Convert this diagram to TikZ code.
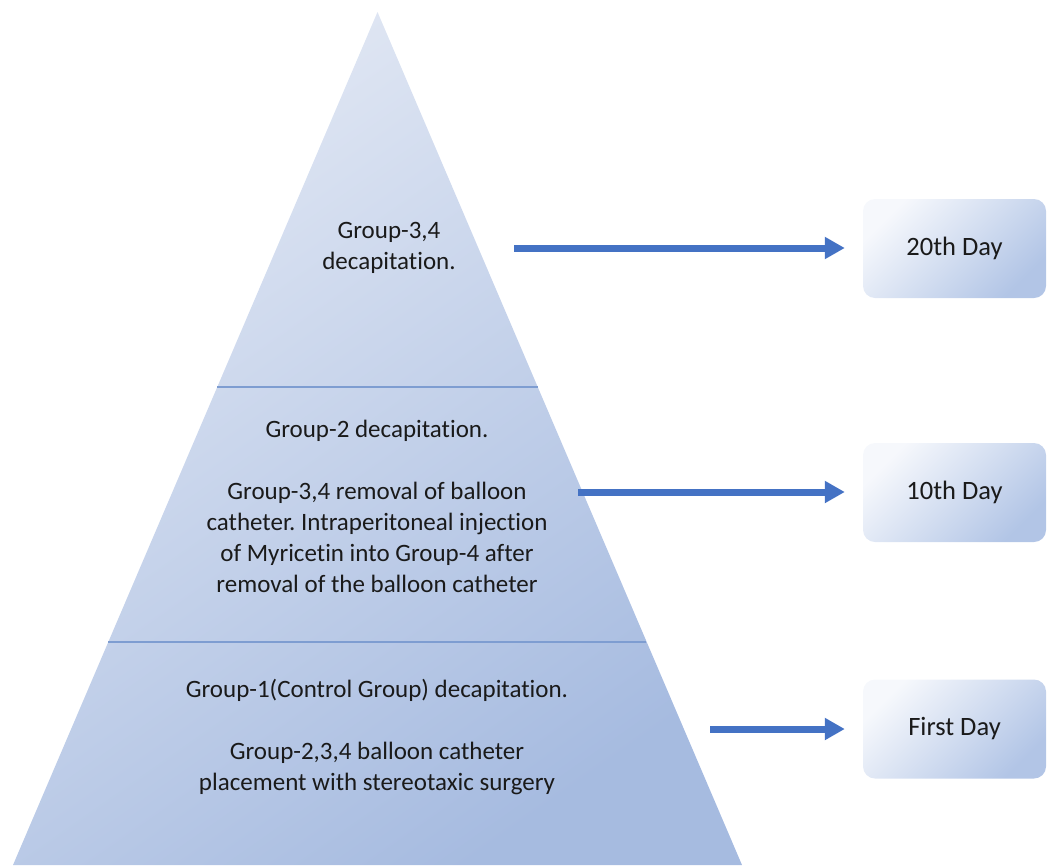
\documentclass[tikz,border=0pt]{standalone}
\usepackage{fontspec}
\setmainfont{Carlito}[RawFeature={-liga,-clig,-dlig}]
\frenchspacing
\usetikzlibrary{arrows.meta}
\definecolor{pyrtop}{HTML}{E2E8F4}
\definecolor{pyrbot}{HTML}{A6BBE0}
\definecolor{divcol}{HTML}{7E9DD1}
\definecolor{arrcol}{HTML}{4472C4}
\definecolor{boxtop}{HTML}{F6F8FC}
\definecolor{boxbot}{HTML}{B2C5E6}
\definecolor{txt}{HTML}{1A1A1A}
\tikzset{
  divider/.style={draw=divcol, line width=2pt},
  arr/.style={draw=arrcol, line width=7pt, -{Triangle[length=20pt,width=21pt]}, shorten >=18pt},
  daybox/.style={rounded corners=12pt, minimum width=183pt, minimum height=99pt,
    top color=boxtop, bottom color=boxbot, shading angle=45, draw=none, text=txt, inner sep=0pt,
    font=\fontsize{26.5}{32}\selectfont},
  pyrtext/.style={align=center, text=txt, inner sep=0pt}
}
\begin{document}
\begin{tikzpicture}[x=1pt,y=-1pt, font=\fontsize{25}{31}\selectfont]
\useasboundingbox (0,0) rectangle (1048,865);
% pyramid
\coordinate (apex) at (377.5,12);
\coordinate (bl) at (13,865);
\coordinate (br) at (742,865);
\shade[top color=pyrtop, bottom color=pyrbot, shading angle=35] (apex) -- (br) -- (bl) -- cycle;
% dividers
\coordinate (d1l) at (217,387);
\coordinate (d1r) at (538,387);
\coordinate (d2l) at (108,642);
\coordinate (d2r) at (646,642);
\draw[divider] (d1l) -- (d1r);
\draw[divider] (d2l) -- (d2r);
% texts
\node[pyrtext] (t3) at (389,248) {Group-3,4\\decapitation.};
\node[pyrtext] (t2) at (377,506) {Group-2 decapitation.\\[31pt]Group-3,4 removal of balloon\\catheter. Intraperitoneal injection\\of Myricetin into Group-4 after\\removal of the balloon catheter};
\node[pyrtext] (t1) at (377,737) {Group-1(Control Group) decapitation.\\[31pt]Group-2,3,4 balloon catheter\\placement with stereotaxic surgery};
% boxes
\node[daybox] (b20) at (954.5,248.5) {20th Day};
\node[daybox] (b10) at (954.5,492.5) {10th Day};
\node[daybox] (b1) at (954.5,729) {First Day};
% arrow starts
\coordinate (s20) at (514,248);
\coordinate (s10) at (578,492);
\coordinate (s1) at (710,729);
\draw[arr] (s20) -- (s20 -| b20.west);
\draw[arr] (s10) -- (s10 -| b10.west);
\draw[arr] (s1) -- (s1 -| b1.west);
\end{tikzpicture}
\end{document}
